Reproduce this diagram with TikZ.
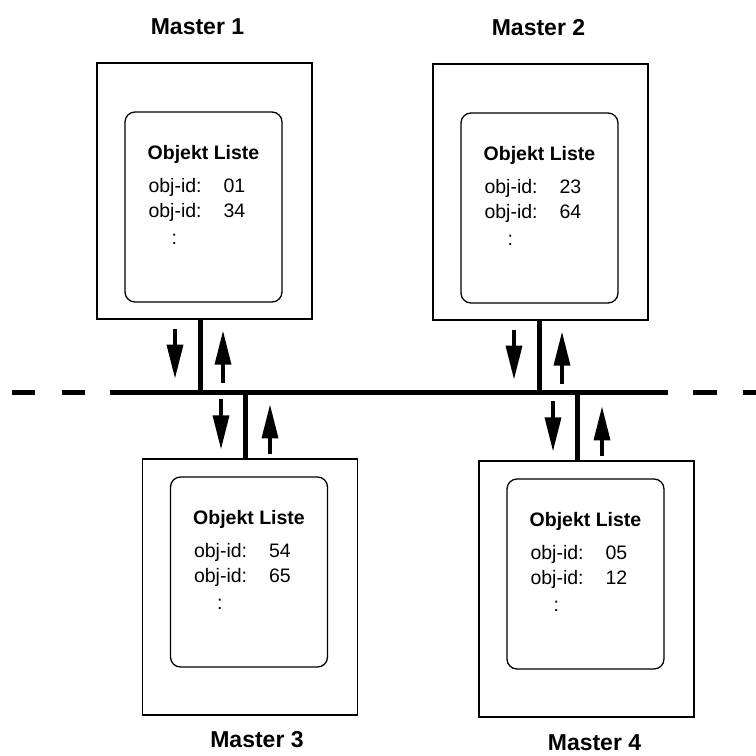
\documentclass[tikz,border=0pt]{standalone}
\usepackage{fontspec}
\setmainfont{Liberation Sans}
\usetikzlibrary{calc,positioning,arrows.meta}

\tikzset{
  master/.style={draw,line width=1.3pt,minimum width=215pt,minimum height=256pt,inner sep=0pt},
  liste/.style={draw,line width=1.3pt,rounded corners=10pt,minimum width=157pt,minimum height=190pt,inner sep=0pt},
  lbl/.style={font=\fontsize{23}{27}\selectfont\bfseries,inner sep=0pt,anchor=base},
  ttl/.style={font=\fontsize{19.5}{24}\selectfont\bfseries,inner sep=0pt,anchor=base},
  txt/.style={font=\fontsize{19.5}{24}\selectfont,inner sep=0pt,anchor=base west},
  bus/.style={line width=5pt},
  flow/.style={line width=3.5pt,-{Triangle[length=34pt,width=16pt]}},
}

\begin{document}
\begin{tikzpicture}[x=1pt,y=-1pt]
  \useasboundingbox[fill=white] (0,0) rectangle (756,756);

  % master boxes with their object lists
  \foreach \n/\x/\y/\d/\p/\q in {1/204.5/191/16/01/34, 2/540.5/192/16/23/64,
                                 3/250/587/-15/54/65, 4/586.5/589/-15/05/12} {
    \node[master] (m\n) at (\x,\y) {};
    \node[liste] (l\n) at ($(m\n.center)+(-1,\d)$) {};
    \node[ttl] (h\n) at ($(l\n.north)+(0,48)$) {Objekt Liste};
    \node[txt] (ka\n) at ($(l\n.north west)+(24,81)$) {obj-id:};
    \node[txt] (va\n) at ($(l\n.north west)+(99,81)$) {\p};
    \node[txt] (kb\n) at ($(l\n.north west)+(24,106)$) {obj-id:};
    \node[txt] (vb\n) at ($(l\n.north west)+(99,106)$) {\q};
    \node[ttl,font=\fontsize{19.5}{24}\selectfont] (dots\n) at ($(l\n.north west)+(50,133)$) {:};
  }

  \node[lbl] (t1) at ($(m1.north)+(-7,-28)$) {Master 1};
  \node[lbl] (t2) at ($(m2.north)+(-2,-28)$) {Master 2};
  \node[lbl] (t3) at ($(m3.south)+(7,32)$) {Master 3};
  \node[lbl] (t4) at ($(m4.south)+(8,33)$) {Master 4};

  % bus
  \coordinate (busL) at (110,392);
  \coordinate (busR) at (668,392);
  \draw[bus] (busL) -- (busR);
  \foreach \a in {12,62}
    \draw[bus] (\a,392) -- +(23,0);
  \foreach \a in {693,743}
    \draw[bus] (\a,392) -- +(24,0);

  % stubs and data flow
  \foreach \n/\dx in {1/-4.5,2/-1.5} {
    \coordinate (s\n) at ($(m\n.south)+(\dx,0)$);
    \draw[bus] (s\n) -- (s\n |- busL);
    \draw[flow] ($(s\n)+(-25,9)$) -- ++(0,50);
    \draw[flow] ($(s\n)+(23,63)$) -- ++(0,-52);
  }
  \foreach \n/\dx in {3/-5,4/-9.5} {
    \coordinate (s\n) at ($(m\n.north)+(\dx,0)$);
    \draw[bus] (s\n) -- (s\n |- busL);
    \draw[flow] ($(s\n)+(-24,-59)$) -- ++(0,50);
    \draw[flow] ($(s\n)+(25,-4)$) -- ++(0,-50);
  }
\end{tikzpicture}
\end{document}
